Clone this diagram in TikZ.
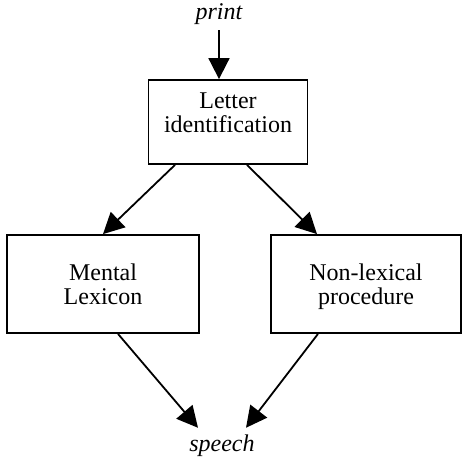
\documentclass[tikz,border=0pt]{standalone}
\usepackage{fontspec}
\setmainfont{Liberation Serif}
\usetikzlibrary{arrows.meta}
\begin{document}
\begin{tikzpicture}[x=0.5pt, y=-0.5pt, line width=0.9pt,
  font=\fontsize{12}{12}\selectfont,
  box/.style={draw, align=center, text depth=0pt},
  arr/.style={-{Triangle[length=10.5pt, width=10.5pt]}}]
  \useasboundingbox (0,0) rectangle (462,460);
  % input and output
  \node[font=\fontsize{12}{12}\selectfont\itshape, anchor=base, inner sep=2pt] (print) at (219,20) {print};
  \node[font=\fontsize{12}{12}\selectfont\itshape, anchor=base] (speech) at (222,452) {speech};
  % boxes
  \node[box, minimum width=79.5pt, minimum height=42pt, text depth=9pt] (lid) at (228,122) {Letter\\identification};
  \node[box, minimum width=96pt, minimum height=49pt] (ml) at (103,284) {Mental\\Lexicon};
  \node[box, minimum width=95pt, minimum height=49pt] (nl) at (366,284) {Non-lexical\\procedure};
  % routes
  \draw[arr] (print.south) -- (print.south |- lid.north);
  \draw[arr] ([xshift=-26.5pt]lid.south) -- (ml.north);
  \draw[arr] ([xshift=9.5pt]lid.south) -- ([xshift=-24.5pt]nl.north);
  \draw[arr] ([xshift=7.5pt]ml.south) -- ([xshift=-12pt]speech.north);
  \draw[arr] ([xshift=-24pt]nl.south) -- ([xshift=12pt]speech.north);
\end{tikzpicture}
\end{document}
